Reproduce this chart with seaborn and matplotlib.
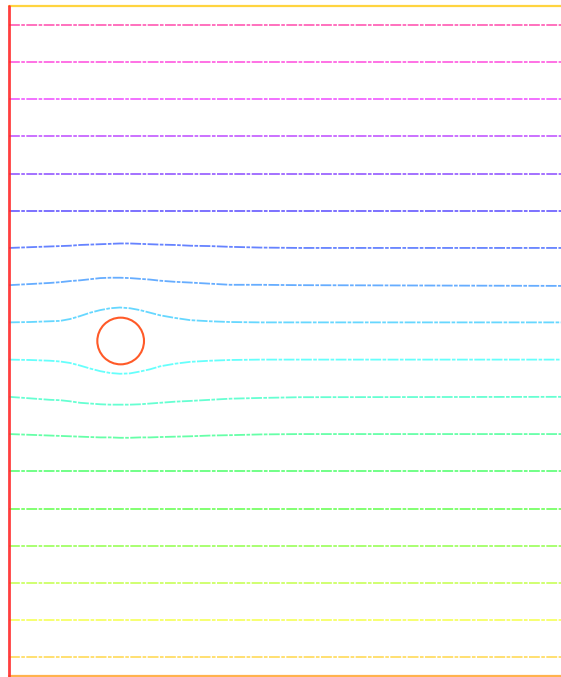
import colorsys
import numpy as np
import pandas as pd
import matplotlib
matplotlib.use("Agg")
import matplotlib.pyplot as plt
import seaborn as sns
from matplotlib.patches import Circle

# streamline start heights at the inlet (bottom -> top), one per band
inlet_y = [0.5, 1.5, 2.5, 3.5, 4.5, 5.5, 6.5, 7.5, 8.5,
           9.5, 10.5, 11.5, 12.5, 13.5, 14.5, 15.5, 16.5, 17.5]

x_pts = [0, 0.56, 1.1, 1.37, 1.64, 1.91, 2.18, 2.45, 2.72, 2.98, 3.25,
         3.52, 3.79, 4.06, 4.46, 4.87, 5.4, 5.94, 6.75, 7.82, 15.0]

# vertical deflection of the streamlines that bend round the cylinder
deflect = {
    6.5:  [0, -0.02, -0.04, -0.05, -0.06, -0.07, -0.08, -0.09, -0.09, -0.10, -0.10,
           -0.09, -0.09, -0.08, -0.07, -0.06, -0.04, -0.03, -0.01, 0, 0],
    7.5:  [0, -0.04, -0.08, -0.09, -0.12, -0.16, -0.18, -0.20, -0.21, -0.21, -0.21,
           -0.20, -0.18, -0.16, -0.13, -0.11, -0.08, -0.05, -0.03, -0.01, 0],
    8.5:  [0, -0.01, -0.03, -0.05, -0.09, -0.16, -0.24, -0.31, -0.36, -0.38, -0.37,
           -0.32, -0.26, -0.18, -0.11, -0.06, -0.03, -0.01, 0, 0, 0],
    9.5:  [0, 0.01, 0.03, 0.04, 0.09, 0.17, 0.26, 0.33, 0.38, 0.40, 0.38,
           0.33, 0.26, 0.19, 0.12, 0.06, 0.03, 0.01, 0, 0, 0],
    10.5: [0, 0.03, 0.06, 0.08, 0.11, 0.13, 0.16, 0.19, 0.20, 0.20, 0.19,
           0.17, 0.15, 0.12, 0.09, 0.07, 0.04, 0.01, 0.01, 0, -0.02],
    11.5: [0, 0.02, 0.04, 0.05, 0.06, 0.08, 0.09, 0.10, 0.11, 0.12, 0.12,
           0.11, 0.10, 0.09, 0.08, 0.06, 0.05, 0.03, 0.01, 0, 0],
}

# domain and obstacle
domain_w = 15.0
domain_h = 18.0
cyl_x, cyl_y, cyl_r = 3.0, 9.0, 0.627

rows = []
for y0 in inlet_y:
    off = deflect.get(y0, [0] * len(x_pts))
    for xv, dv in zip(x_pts, off):
        rows.append({"x": xv, "y": y0 + dv, "line": y0})
df = pd.DataFrame(rows)

sns.set_theme(style="white")
fig = plt.figure(figsize=(5.61, 6.77), dpi=100)
ax = fig.add_axes([0, 0, 1, 1])

# evenly spaced hues, yellow-orange at the bottom up to pink at the top
colors = [colorsys.hsv_to_rgb(h, 1, 1) for h in np.linspace(0.13, 0.91, len(inlet_y))]

sns.lineplot(data=df, x="x", y="y", hue="line", palette=colors, units="line",
             estimator=None, sort=False, legend=False, linewidth=1.3, alpha=0.6, ax=ax)
for ln in ax.get_lines():
    ln.set_dashes([6, 0.8, 2, 0.8])

# walls / inlet
ax.plot([0, domain_w + 1], [domain_h, domain_h], color="#ffd02a", lw=1.6, alpha=0.9)
ax.plot([0, domain_w + 1], [0, 0], color="#ffaa3a", lw=1.6, alpha=0.9)
ax.plot([0, 0], [0, domain_h], color="#ff2a2a", lw=2.0, alpha=0.9)
ax.add_patch(Circle((cyl_x, cyl_y), cyl_r, fill=False, ec="#ff5a28", lw=1.5))

ax.set_xlim(-9 / 37.22, 552 / 37.22)
ax.set_ylim(-1 / 37.22, domain_h + 6 / 37.22)
ax.set_axis_off()

fig.savefig("out.png", dpi=100)
